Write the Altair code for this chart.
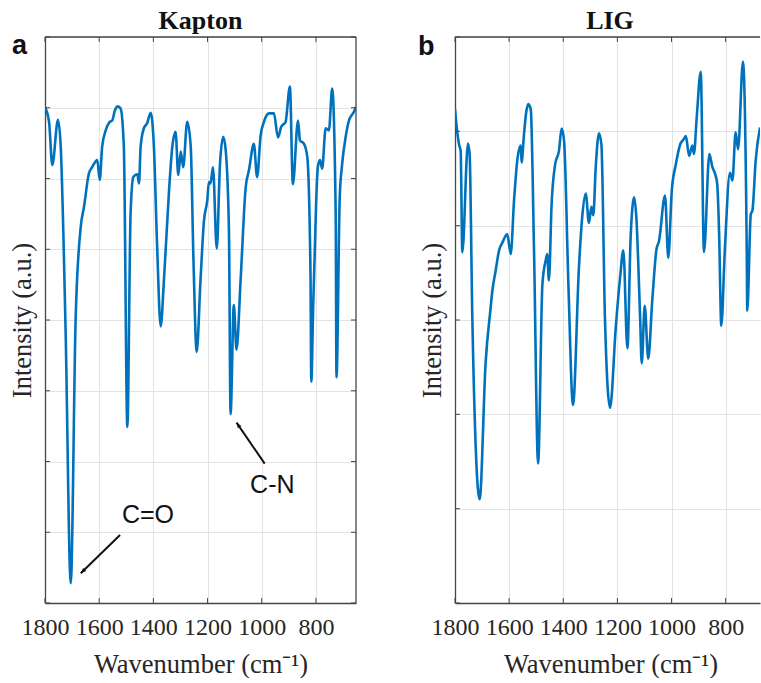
import altair as alt
import pandas as pd

# ---------------- data ----------------
x_ticks = [1800, 1600, 1400, 1200, 1000, 800]

kapton_wn = [1800, 1785, 1773, 1752, 1742, 1724, 1705, 1687, 1668, 1656, 1638, 1626, 1607, 1598,
             1589, 1576, 1561, 1552, 1542, 1531, 1521, 1509, 1496, 1484, 1474, 1459, 1453, 1447,
             1435, 1423, 1410, 1398, 1386, 1373, 1361, 1342, 1330, 1318, 1308, 1299, 1290, 1275,
             1262, 1252, 1240, 1226, 1213, 1201, 1195, 1189, 1180, 1166, 1154, 1142, 1133, 1121,
             1115, 1103, 1093, 1078, 1059, 1047, 1029, 1017, 1004, 992, 973, 955, 940, 928, 912,
             896, 885, 866, 859, 844, 832, 820, 817, 810, 807, 793, 785, 777, 764, 752, 740, 727,
             724, 712, 703, 690, 678, 660, 652]
kapton_int = [7.01, 6.80, 6.19, 6.83, 6.45, 3.86, 0.28, 4.00, 5.32, 5.60, 6.07, 6.16, 6.26, 5.98,
              6.45, 6.68, 6.80, 6.82, 6.96, 7.02, 6.99, 6.45, 2.49, 5.51, 6.02, 6.06, 5.93, 6.45,
              6.71, 6.78, 6.93, 6.45, 5.03, 3.91, 4.56, 5.84, 6.45, 6.66, 6.05, 6.38, 6.16, 6.80,
              6.45, 4.85, 3.55, 4.56, 5.41, 5.69, 5.95, 5.93, 6.16, 5.01, 6.21, 6.59, 6.40, 5.27,
              2.67, 4.21, 3.58, 4.56, 5.88, 6.12, 6.49, 6.02, 6.61, 6.80, 6.92, 6.92, 6.58, 6.73,
              6.80, 7.30, 5.92, 6.82, 6.54, 6.49, 6.31, 4.66, 3.13, 4.21, 4.59, 6.16, 6.26, 6.14,
              6.71, 6.68, 7.27, 5.51, 3.19, 5.74, 6.21, 6.59, 6.82, 6.94, 7.01]

lig_wn = [1800, 1792, 1785, 1779, 1773, 1752, 1746, 1736, 1709, 1687, 1668, 1662, 1650, 1637,
          1625, 1607, 1594, 1582, 1570, 1557, 1554, 1545, 1537, 1529, 1520, 1508, 1493, 1477,
          1465, 1459, 1453, 1443, 1430, 1416, 1406, 1397, 1381, 1364, 1342, 1330, 1317, 1305,
          1296, 1289, 1280, 1268, 1259, 1246, 1227, 1206, 1190, 1178, 1163, 1151, 1138, 1130,
          1116, 1110, 1099, 1086, 1071, 1056, 1046, 1024, 1012, 999, 984, 968, 954, 947, 935,
          923, 917, 907, 892, 880, 860, 849, 839, 831, 824, 816, 803, 784, 775, 763, 754, 736,
          722, 720, 707, 701, 689, 673]
lig_int = [5.24, 5.00, 4.86, 4.79, 3.72, 4.87, 4.76, 3.03, 1.10, 2.54, 3.14, 3.31, 3.52, 3.74,
           3.82, 3.91, 3.70, 4.26, 4.69, 4.85, 4.67, 4.97, 5.20, 5.29, 5.23, 3.74, 1.48, 3.38,
           3.63, 3.70, 3.42, 4.23, 4.65, 4.79, 5.03, 4.90, 3.38, 2.10, 3.56, 4.09, 4.34, 4.03,
           4.20, 4.11, 4.62, 4.98, 4.86, 3.03, 2.07, 2.92, 3.45, 3.74, 2.70, 3.88, 4.30, 4.09,
           3.03, 2.54, 3.15, 2.59, 3.21, 3.74, 3.84, 4.32, 3.66, 4.37, 4.65, 4.86, 4.92, 4.95,
           4.74, 4.85, 4.76, 5.14, 5.63, 3.72, 4.76, 4.62, 4.55, 4.44, 3.91, 2.94, 3.74, 4.56,
           4.48, 4.99, 4.81, 5.74, 3.74, 3.10, 4.12, 4.16, 4.69, 5.04]

# annotations (Kapton panel), in data coordinates
ann_labels = ["C=O", "C-N"]
ann_text_wn = [1420, 961]
ann_text_int = [1.13, 1.55]
arrow_start_wn = [1523, 989]
arrow_start_int = [0.96, 1.97]
arrow_tip_wn = [1668, 1093]
arrow_tip_int = [0.42, 2.55]
arrow_angle = [225.7, 325.9]

# ---------------- style ----------------
BLUE = "#0072BD"
AXC = "#262626"
FRAME = "#454545"
H = 566
SERIF = "Liberation Serif"
SANS = "Liberation Sans"
ARROW = "M0,0L-0.4,1L0.4,1Z"


def panel(wn, inten, x_min, width, y_max, title, title_x, letter, letter_x, letter_y,
          right_frame, annotate):
    xs = alt.Scale(domain=[1800, x_min], nice=False, zero=False)
    ys = alt.Scale(domain=[0, y_max], nice=False, zero=False)
    x_axis = alt.Axis(values=x_ticks, format="d", title="Wavenumber (cm⁻¹)", grid=True,
                      ticks=False, tickSize=0, labelFlush=False, labelOverlap=False,
                      labelBaseline="alphabetic", labelPadding=31.5, titleX=155.5,
                      titleY=69.5, titleBaseline="alphabetic", titleAlign="center")
    y_axis = alt.Axis(values=list(range(y_max + 1)), labels=False, ticks=False, tickSize=0,
                      grid=True, title="Intensity (a.u.)", titleAngle=270, titleX=-15,
                      titleY=H / 2, titleBaseline="alphabetic", titleAlign="center")

    def X(f):
        return alt.X(f, type="quantitative", scale=xs, axis=x_axis)

    def Y(f):
        return alt.Y(f, type="quantitative", scale=ys, axis=y_axis)

    df = pd.DataFrame({"w": wn, "v": inten})
    line = alt.Chart(df).mark_line(color=BLUE, strokeWidth=2.6, interpolate="monotone",
                                   clip=True).encode(
        x=X("w"), y=Y("v"), order=alt.Order("w:Q", sort="descending"))

    tdf = pd.DataFrame({"w": x_ticks})
    bt = alt.Chart(tdf).mark_rule(color=FRAME, strokeWidth=1).encode(
        x=X("w"), y=alt.value(H), y2=alt.value(H - 5))
    layers = [line, bt]
    ydf = pd.DataFrame({"v": list(range(y_max + 1))})
    lt = alt.Chart(ydf).mark_rule(color=FRAME, strokeWidth=1).encode(
        y=Y("v"), x=alt.value(0), x2=alt.value(5))
    layers.append(lt)
    tt = alt.Chart(tdf).mark_rule(color=FRAME, strokeWidth=1).encode(
        x=X("w"), y=alt.value(0), y2=alt.value(5))
    layers.append(tt)
    top = alt.Chart(pd.DataFrame({"k": [0]})).mark_rule(color=FRAME, strokeWidth=1.3).encode(
        x=alt.value(0), x2=alt.value(width), y=alt.value(0))
    layers.append(top)
    if right_frame:
        rt = alt.Chart(ydf).mark_rule(color=FRAME, strokeWidth=1).encode(
            y=Y("v"), x=alt.value(width), x2=alt.value(width - 5))
        rf = alt.Chart(pd.DataFrame({"k": [0]})).mark_rule(color=FRAME, strokeWidth=1.3).encode(
            x=alt.value(width), y=alt.value(0), y2=alt.value(H))
        layers += [rt, rf]

    ttl = alt.Chart(pd.DataFrame({"t": [title]})).mark_text(
        font=SERIF, fontSize=26, fontWeight="bold", color="#111111", align="center",
        baseline="alphabetic").encode(x=alt.value(title_x), y=alt.value(-8.5), text="t:N")
    let = alt.Chart(pd.DataFrame({"t": [letter]})).mark_text(
        font=SANS, fontSize=27, fontWeight="bold", color="#111111", align="left",
        baseline="alphabetic").encode(x=alt.value(letter_x), y=alt.value(letter_y), text="t:N")
    layers += [ttl, let]

    if annotate:
        adf = pd.DataFrame({"lab": ann_labels, "tw": ann_text_wn, "tv": ann_text_int,
                            "sw": arrow_start_wn, "sv": arrow_start_int,
                            "ew": arrow_tip_wn, "ev": arrow_tip_int, "ang": arrow_angle})
        txt = alt.Chart(adf).mark_text(font=SANS, fontSize=25, color="#111111",
                                       align="center", baseline="alphabetic").encode(
            x=X("tw"), y=Y("tv"), text="lab:N")
        shaft = alt.Chart(adf).mark_rule(color="#111111", strokeWidth=2).encode(
            x=X("sw"), x2="ew", y=Y("sv"), y2="ev")
        head = alt.Chart(adf).mark_point(shape=ARROW, filled=True, size=120, color="#111111",
                                         opacity=1).encode(
            x=X("ew"), y=Y("ev"), angle=alt.Angle("ang:Q", scale=None))
        layers += [shaft, head, txt]

    return alt.layer(*layers).properties(width=width, height=H)


pa = panel(kapton_wn, kapton_int, 652, 311, 8, "Kapton", 155.5, "a", -33, 17, True, True)
pb = panel(lig_wn, lig_int, 673, 305, 6, "LIG", 155, "b", -37, 18, False, False)

chart = alt.hconcat(pa, pb, spacing=99, bounds="flush").properties(
    padding={"left": 9, "top": 7, "right": 0, "bottom": 0}
).configure_view(stroke=None).configure_axis(
    labelFont=SERIF, labelFontSize=24, labelColor=AXC,
    titleFont=SERIF, titleFontSize=26.5, titleFontWeight="normal", titleColor=AXC,
    domainColor=FRAME, domainWidth=1.3, gridColor="#e3e3e3", gridWidth=1
)

chart.save("out.html", embed_options={"renderer": "svg", "actions": False})
